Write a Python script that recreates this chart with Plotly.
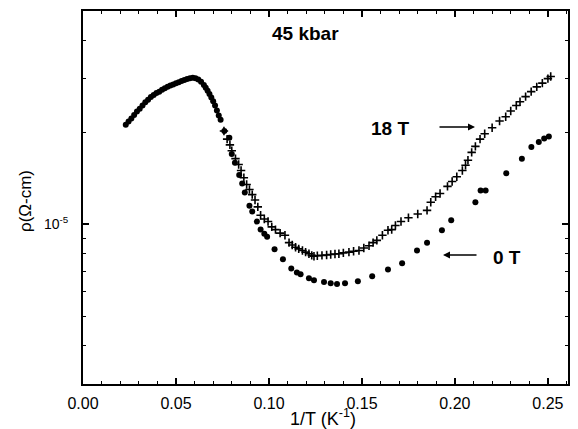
import plotly.graph_objects as go

# High-temperature region (both fields overlap)
x_common = [0.0230, 0.0245, 0.0260, 0.0275, 0.0290, 0.0305, 0.0320, 0.0335, 0.0350, 0.0365,
            0.0380, 0.0395, 0.0410, 0.0425, 0.0440, 0.0455, 0.0470, 0.0485, 0.0500, 0.0515,
            0.0530, 0.0545, 0.0560, 0.0575, 0.0590, 0.0605, 0.0620, 0.0635, 0.0650, 0.0660,
            0.0670, 0.0680, 0.0690, 0.0700, 0.0710, 0.0720, 0.0730, 0.0740]
rho_common = [2.12e-5, 2.17e-5, 2.22e-5, 2.28e-5, 2.34e-5, 2.39e-5, 2.45e-5, 2.51e-5, 2.56e-5, 2.61e-5,
              2.65e-5, 2.69e-5, 2.72e-5, 2.76e-5, 2.79e-5, 2.82e-5, 2.85e-5, 2.87e-5, 2.90e-5, 2.92e-5,
              2.95e-5, 2.97e-5, 2.99e-5, 3.01e-5, 3.02e-5, 3.01e-5, 2.98e-5, 2.93e-5, 2.86e-5, 2.80e-5,
              2.74e-5, 2.67e-5, 2.60e-5, 2.53e-5, 2.45e-5, 2.36e-5, 2.27e-5, 2.20e-5]

# 0 T (filled circles)
x_0T = [0.0760, 0.0787, 0.0800, 0.0817, 0.0840, 0.0856, 0.0870, 0.0895, 0.0910, 0.0935,
        0.0955, 0.0975, 0.0990, 0.1030, 0.1075, 0.1120, 0.1150, 0.1170, 0.1215, 0.1242,
        0.1296, 0.1332, 0.1366, 0.1409, 0.1478, 0.1555, 0.1640, 0.1716, 0.1796, 0.1850,
        0.1930, 0.1980, 0.2110, 0.2138, 0.2165, 0.2276, 0.2360, 0.2411, 0.2451, 0.2480,
        0.2505]
rho_0T = [2.02e-5, 1.92e-5, 1.70e-5, 1.59e-5, 1.45e-5, 1.36e-5, 1.27e-5, 1.15e-5, 1.10e-5, 1.02e-5,
          9.6e-6, 9.3e-6, 9.1e-6, 8.27e-6, 7.67e-6, 7.16e-6, 6.95e-6, 6.85e-6, 6.65e-6, 6.55e-6,
          6.46e-6, 6.40e-6, 6.37e-6, 6.40e-6, 6.50e-6, 6.75e-6, 7.10e-6, 7.45e-6, 8.20e-6, 8.70e-6,
          9.55e-6, 1.03e-5, 1.18e-5, 1.29e-5, 1.29e-5, 1.47e-5, 1.64e-5, 1.79e-5, 1.86e-5, 1.91e-5,
          1.94e-5]

# 18 T (crosses)
x_18T = [0.0758, 0.0775, 0.0790, 0.0800, 0.0820, 0.0837, 0.0850, 0.0865, 0.0880, 0.0895,
         0.0910, 0.0925, 0.0940, 0.0955, 0.0975, 0.0995, 0.1015, 0.1035, 0.1060, 0.1086,
         0.1108, 0.1125, 0.1143, 0.1160, 0.1180, 0.1197, 0.1215, 0.1230, 0.1242, 0.1260,
         0.1285, 0.1310, 0.1332, 0.1355, 0.1376, 0.1400, 0.1430, 0.1455, 0.1484, 0.1510,
         0.1538, 0.1560, 0.1580, 0.1610, 0.1640, 0.1660, 0.1680, 0.1710, 0.1750, 0.1800,
         0.1850, 0.1870, 0.1896, 0.1920, 0.1960, 0.1985, 0.2010, 0.2040, 0.2057, 0.2070,
         0.2090, 0.2110, 0.2135, 0.2160, 0.2200, 0.2240, 0.2273, 0.2300, 0.2330, 0.2350,
         0.2380, 0.2410, 0.2440, 0.2470, 0.2500, 0.2515]
rho_18T = [2.02e-5, 1.90e-5, 1.82e-5, 1.74e-5, 1.64e-5, 1.57e-5, 1.50e-5, 1.42e-5, 1.35e-5, 1.30e-5,
           1.25e-5, 1.20e-5, 1.14e-5, 1.07e-5, 1.04e-5, 1.02e-5, 9.8e-6, 9.6e-6, 9.35e-6, 9.2e-6,
           8.7e-6, 8.55e-6, 8.4e-6, 8.3e-6, 8.2e-6, 8.1e-6, 8.0e-6, 7.9e-6, 7.85e-6, 7.88e-6,
           7.9e-6, 7.92e-6, 7.95e-6, 7.98e-6, 8.0e-6, 8.05e-6, 8.1e-6, 8.15e-6, 8.2e-6, 8.35e-6,
           8.5e-6, 8.7e-6, 8.85e-6, 9.2e-6, 9.55e-6, 9.6e-6, 9.9e-6, 1.02e-5, 1.05e-5, 1.08e-5,
           1.11e-5, 1.18e-5, 1.23e-5, 1.26e-5, 1.33e-5, 1.38e-5, 1.43e-5, 1.50e-5, 1.56e-5, 1.62e-5,
           1.72e-5, 1.80e-5, 1.90e-5, 1.98e-5, 2.07e-5, 2.18e-5, 2.25e-5, 2.35e-5, 2.45e-5, 2.52e-5,
           2.62e-5, 2.72e-5, 2.82e-5, 2.90e-5, 3.00e-5, 3.05e-5]

x_ticks = [0.00, 0.05, 0.10, 0.15, 0.20, 0.25]
x_ticklabels = ["0.00", "0.05", "0.10", "0.15", "0.20", "0.25"]
x_minor = [0.01, 0.02, 0.03, 0.04, 0.06, 0.07, 0.08, 0.09, 0.11, 0.12, 0.13, 0.14,
           0.16, 0.17, 0.18, 0.19, 0.21, 0.22, 0.23, 0.24, 0.26]
y_ticks = [1e-5]
y_ticklabels = ["10<sup>-5</sup>"]
y_minor = [3e-6, 4e-6, 5e-6, 6e-6, 7e-6, 8e-6, 9e-6, 2e-5, 3e-5, 4e-5]

FONT = "Liberation Sans, Arial, sans-serif"

fig = go.Figure()
fig.add_trace(go.Scatter(x=x_common, y=rho_common, mode="markers",
                         marker=dict(symbol="circle", size=6, color="black"),
                         showlegend=False))
fig.add_trace(go.Scatter(x=x_18T, y=rho_18T, mode="markers",
                         marker=dict(symbol="cross-thin", size=6, color="black",
                                     line=dict(width=1.6, color="black")),
                         showlegend=False))
fig.add_trace(go.Scatter(x=x_0T, y=rho_0T, mode="markers",
                         marker=dict(symbol="circle", size=6, color="black"),
                         showlegend=False))

# The page body adds an 8 px offset; the figure is sized so the plot lands
# at screen x 83..568, y 11..384 in the 578x429 window.
OFF = 8
W, H = 578 - OFF, 429 - OFF
L, R, T, B = 83, 568, 11, 384  # screen coords of plot area
def px(xp):
    return (xp - L) / (R - L)
def py(yp):
    return (B - yp) / (B - T)

def label(xp, yp, text, size, angle=0):
    return dict(x=px(xp), y=py(yp), xref="paper", yref="paper", text=text,
                showarrow=False, textangle=angle, xanchor="center", yanchor="middle",
                font=dict(size=size, family=FONT, color="black"))

def arrow(x_head, y_head, dx):
    return dict(x=px(x_head), y=py(y_head), xref="paper", yref="paper",
                ax=dx, ay=0, axref="pixel", ayref="pixel", showarrow=True, text="",
                arrowhead=2, arrowsize=1, arrowwidth=1.4, arrowcolor="black")

annotations = [
    label(305, 33, "<b>45 kbar</b>", 19),
    label(390, 128, "<b>18 T</b>", 19),
    label(507, 257, "<b>0 T</b>", 19),
    arrow(475, 127, -37),
    arrow(443, 255, 35),
    label(323, 417, "1/T (K<sup>-1</sup>)", 18),
    label(25, 201, "ρ(Ω-cm)", 17, angle=-90),
]

fig.update_layout(
    width=W, height=H,
    margin=dict(l=L - OFF, r=578 - R, t=T - OFF, b=429 - B, autoexpand=False),
    paper_bgcolor="white", plot_bgcolor="white",
    font=dict(family=FONT, color="black"),
    annotations=annotations,
    xaxis=dict(
        range=[0.0, 0.2608],
        tickmode="array", tickvals=x_ticks, ticktext=x_ticklabels,
        ticks="inside", ticklen=6, tickwidth=1.5, tickcolor="black",
        minor=dict(tickmode="array", tickvals=x_minor, ticks="inside", ticklen=3,
                   tickwidth=1, tickcolor="black"),
        showline=True, linewidth=2, linecolor="black", mirror="allticks",
        showgrid=False, zeroline=False, automargin=False,
        tickfont=dict(size=16, family=FONT),
        ticklabelstandoff=4,
    ),
    yaxis=dict(
        type="log",
        range=[-5.524, -4.301],
        tickmode="array", tickvals=y_ticks, ticktext=y_ticklabels,
        ticks="inside", ticklen=6, tickwidth=1.5, tickcolor="black",
        minor=dict(tickmode="array", tickvals=y_minor, ticks="inside", ticklen=3,
                   tickwidth=1, tickcolor="black"),
        showline=True, linewidth=2, linecolor="black", mirror="allticks",
        showgrid=False, zeroline=False, automargin=False,
        tickfont=dict(size=14, family=FONT),
        ticklabelstandoff=10,
    ),
)

fig.write_html("out.html")
